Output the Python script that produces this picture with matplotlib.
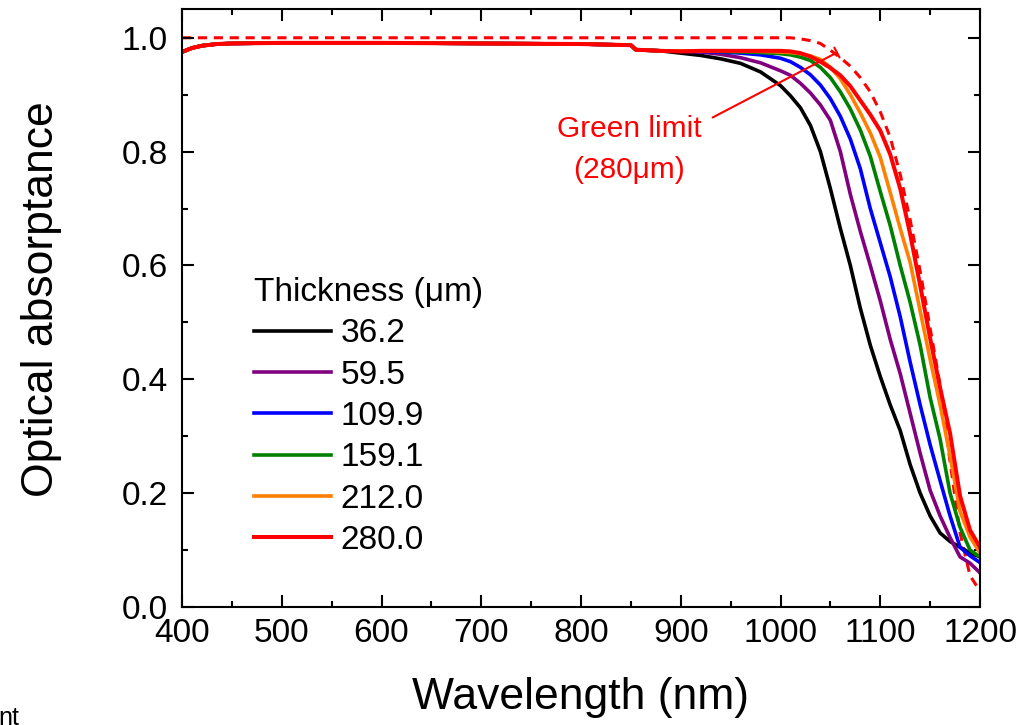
import matplotlib
matplotlib.use("Agg")
import matplotlib.pyplot as plt
from matplotlib.ticker import MultipleLocator

plt.rcParams['font.family'] = ['Liberation Sans', 'DejaVu Sans']

# ---- data ----
plateau_wl = [400, 410, 420, 435, 450, 500, 600, 700, 800, 850, 855, 880]
plateau_abs = [0.975, 0.982, 0.986, 0.989, 0.990, 0.991, 0.991, 0.990, 0.989, 0.987, 0.979, 0.977]

tail_wl = [900, 920, 940, 960, 980, 1000, 1010, 1020, 1030, 1040, 1050, 1060, 1070,
           1080, 1090, 1100, 1110, 1120, 1130, 1140, 1150, 1160, 1170, 1180, 1190, 1200]

thickness_labels = ["36.2", "59.5", "109.9", "159.1", "212.0", "280.0"]
colors = ["#000000", "#800080", "#0000FF", "#008000", "#FF8000", "#FF0000"]

abs_36_2 = [0.973, 0.969, 0.963, 0.955, 0.940, 0.916, 0.898, 0.877, 0.846, 0.800, 0.735, 0.665, 0.600,
            0.525, 0.460, 0.405, 0.355, 0.310, 0.250, 0.200, 0.160, 0.130, 0.115, 0.105, 0.095, 0.088]
abs_59_5 = [0.976, 0.975, 0.971, 0.965, 0.956, 0.942, 0.934, 0.920, 0.903, 0.882, 0.855, 0.800, 0.725,
            0.660, 0.600, 0.538, 0.470, 0.410, 0.340, 0.270, 0.205, 0.160, 0.122, 0.088, 0.077, 0.060]
abs_109_9 = [0.977, 0.976, 0.975, 0.973, 0.970, 0.964, 0.958, 0.948, 0.935, 0.917, 0.893, 0.862, 0.822,
             0.770, 0.700, 0.640, 0.580, 0.510, 0.430, 0.355, 0.285, 0.222, 0.160, 0.105, 0.090, 0.078]
abs_159_1 = [0.977, 0.977, 0.976, 0.975, 0.974, 0.972, 0.970, 0.966, 0.960, 0.948, 0.930, 0.905, 0.875,
             0.838, 0.792, 0.730, 0.670, 0.600, 0.535, 0.460, 0.368, 0.295, 0.200, 0.140, 0.100, 0.088]
abs_212_0 = [0.977, 0.977, 0.977, 0.977, 0.976, 0.975, 0.974, 0.972, 0.968, 0.962, 0.948, 0.928, 0.900,
             0.868, 0.833, 0.790, 0.728, 0.665, 0.605, 0.520, 0.435, 0.355, 0.265, 0.168, 0.123, 0.095]
abs_280_0 = [0.976, 0.977, 0.977, 0.977, 0.977, 0.977, 0.976, 0.973, 0.967, 0.958, 0.947, 0.934, 0.915,
             0.890, 0.865, 0.837, 0.795, 0.735, 0.655, 0.565, 0.472, 0.385, 0.305, 0.195, 0.135, 0.105]
series = [abs_36_2, abs_59_5, abs_109_9, abs_159_1, abs_212_0, abs_280_0]

limit_wl = [400, 1000, 1010, 1020, 1030, 1040, 1050, 1060, 1070, 1080, 1090, 1100, 1110,
            1120, 1130, 1140, 1150, 1160, 1170, 1180, 1190, 1200]
limit_abs = [1.0, 1.0, 1.0, 0.998, 0.995, 0.990, 0.978, 0.965, 0.950, 0.930, 0.905, 0.870, 0.825,
             0.760, 0.680, 0.590, 0.490, 0.390, 0.255, 0.130, 0.055, 0.028]

# ---- figure ----
W, H = 1034, 725
fig = plt.figure(figsize=(W / 100, H / 100), dpi=100)
ax = fig.add_axes([182 / W, 1 - 607 / H, (980 - 182) / W, (607 - 9.3) / H])

ax.plot(limit_wl, limit_abs, color="#FF0000", lw=2.2, linestyle=(0, (3, 2.2)), zorder=1)
for vals, lab, col in zip(series, thickness_labels, colors):
    ax.plot(plateau_wl + tail_wl, plateau_abs + vals, color=col,
            lw=2.9 if col == "#FF0000" else 2.6, label=lab,
            solid_joinstyle='round', zorder=2)

ax.set_xlim(400, 1200)
ax.set_ylim(0, 1.05)
ax.xaxis.set_major_locator(MultipleLocator(100))
ax.xaxis.set_minor_locator(MultipleLocator(50))
ax.yaxis.set_major_locator(MultipleLocator(0.2))
ax.yaxis.set_minor_locator(MultipleLocator(0.1))
ax.yaxis.set_major_formatter(matplotlib.ticker.FormatStrFormatter('%.1f'))

ax.tick_params(which='both', direction='in', top=True, right=True, width=1.5, labelsize=24)
ax.tick_params(which='major', length=8.5)
ax.tick_params(which='minor', length=4.5)
ax.tick_params(axis='x', pad=8)
ax.tick_params(axis='y', pad=10)
for sp in ax.spines.values():
    sp.set_linewidth(1.5)

ax.set_xlabel("Wavelength (nm)", fontsize=32)
ax.set_ylabel("Optical absorptance", fontsize=32)
ax.xaxis.set_label_coords(0.5, (607 - 677) / 597.7)
ax.yaxis.set_label_coords((62 - 182) / 798, (607 - 299) / 597.7)

leg = ax.legend(title="Thickness (μm)", loc='upper left',
                bbox_to_anchor=(254 / W, 1 - 277 / H), bbox_transform=fig.transFigure,
                frameon=False, fontsize=24, title_fontsize=24, handlelength=2.3,
                handletextpad=0.3, labelspacing=0.31, borderpad=0, borderaxespad=0,
                alignment='left')

# Green limit annotation
ax.text(848, 0.840, "Green limit", color="#FF0000", fontsize=21.5, ha='center', va='center')
ax.text(848, 0.767, "(280μm)", color="#FF0000", fontsize=21.5, ha='center', va='center')
ax.annotate("", xy=(1056.6, 0.974), xytext=(932, 0.860),
            arrowprops=dict(arrowstyle='-[, widthB=0.4, lengthB=0.0', color="#FF0000",
                            lw=1.5, shrinkA=0, shrinkB=0))

fig.text(-0.002, 0.0, "nt", fontsize=18, ha='left', va='baseline')

fig.savefig("out.png", dpi=100)
